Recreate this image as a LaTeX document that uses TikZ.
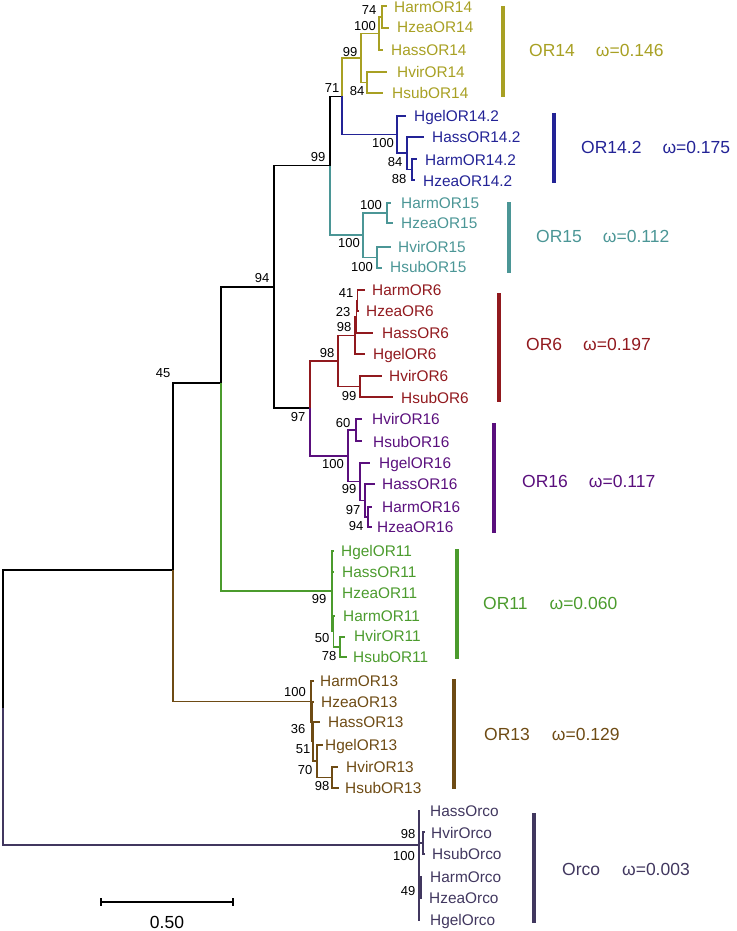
\documentclass[tikz,border=0pt]{standalone}
\usepackage{fontspec}
\setmainfont{Liberation Sans}
\definecolor{orXIV}{RGB}{168,160,35}
\definecolor{orXIVb}{RGB}{35,35,150}
\definecolor{orXV}{RGB}{75,150,150}
\definecolor{orVI}{RGB}{145,25,30}
\definecolor{orXVI}{RGB}{90,15,125}
\definecolor{orXI}{RGB}{75,155,45}
\definecolor{orXIII}{RGB}{110,75,20}
\definecolor{orco}{RGB}{65,55,95}
\begin{document}
\begin{tikzpicture}[x=1pt,y=-1pt,
  br/.style={line width=1.15pt},
  leaf/.style={font=\fontsize{15.4}{18}\selectfont, anchor=base west, inner sep=0pt, yshift=-5.5pt},
  boot/.style={font=\fontsize{13}{15}\selectfont, inner sep=0pt},
  bar/.style={line width=4.5pt},
  clade/.style={font=\fontsize{17.5}{21}\selectfont, anchor=west, inner sep=0pt}]
\useasboundingbox (0,0) rectangle (736,931);
\coordinate (root) at (3,707.5);
\coordinate (nA) at (173,570);
\coordinate (nAtop) at (173,383);
\coordinate (nB) at (221,383);
\coordinate (nC) at (274,287);
\coordinate (nD) at (330,165.5);
\coordinate (nE) at (310,408);
\coordinate (n71) at (342,96.5);
\coordinate (nOrco) at (419,845);
\coordinate (n99a) at (361,58);
\coordinate (n100a) at (379,33.5);
\coordinate (n74) at (382,17);
\coordinate (n84a) at (367,82.5);
\coordinate (tHarm14) at (387,6);
\coordinate (tHzea14) at (389,28);
\coordinate (tHass14) at (383,50);
\coordinate (tHvir14) at (387,72);
\coordinate (tHsub14) at (383,93);
\coordinate (n100b) at (397,134.5);
\coordinate (n84b) at (407,153);
\coordinate (n88) at (412,169.5);
\coordinate (tHgel142) at (406,116);
\coordinate (tHass142) at (424,137);
\coordinate (tHarm142) at (417,159);
\coordinate (tHzea142) at (415,180);
\coordinate (nOR15) at (363,235);
\coordinate (n100c) at (387,213);
\coordinate (n100d) at (377,257.5);
\coordinate (tHarm15) at (391,203);
\coordinate (tHzea15) at (393,223);
\coordinate (tHvir15) at (391,247);
\coordinate (tHsub15) at (382,268);
\coordinate (nOR6) at (338,361);
\coordinate (n98b) at (355,335.5);
\coordinate (n23) at (356.5,317);
\coordinate (n41) at (357.5,300.5);
\coordinate (n99b) at (360,386.5);
\coordinate (tHarm6) at (365,290);
\coordinate (tHzea6) at (359,311);
\coordinate (tHass6) at (373,333);
\coordinate (tHgel6) at (365,354);
\coordinate (tHvir6) at (382,376);
\coordinate (tHsub6) at (393,397);
\coordinate (nOR16) at (348,456);
\coordinate (n60) at (356,430);
\coordinate (n99c) at (360,481.5);
\coordinate (n97c) at (365,500.5);
\coordinate (n94) at (368,517);
\coordinate (tHvir16) at (362,419);
\coordinate (tHsub16) at (362,441);
\coordinate (tHgel16) at (370,463);
\coordinate (tHass16) at (375,484);
\coordinate (tHarm16) at (372,507);
\coordinate (tHzea16) at (372,527);
\coordinate (nOR11) at (332,591);
\coordinate (n50) at (333.5,631.5);
\coordinate (n78) at (340,647);
\coordinate (tHgel11) at (334,551);
\coordinate (tHass11) at (334,572);
\coordinate (tHzea11) at (333,593);
\coordinate (tHarm11) at (335,616);
\coordinate (tHvir11) at (345,637);
\coordinate (tHsub11) at (347,657);
\coordinate (n100e) at (311,701.5);
\coordinate (n36) at (312,722);
\coordinate (n51) at (313,741.5);
\coordinate (n70) at (317,761);
\coordinate (n98e) at (332,777.5);
\coordinate (tHarm13) at (314,681);
\coordinate (tHzea13) at (314,702);
\coordinate (tHass13) at (320,722);
\coordinate (tHgel13) at (323,745);
\coordinate (tHvir13) at (338,767);
\coordinate (tHsub13) at (339,788);
\coordinate (n98f) at (423,843);
\coordinate (n49) at (421,887.5);
\coordinate (tHassO) at (420,811);
\coordinate (tHvirO) at (425,832);
\coordinate (tHsubO) at (425,854);
\coordinate (tHarmO) at (422,877);
\coordinate (tHzeaO) at (422,898);
\coordinate (tHgelO) at (420,920);
\draw[br] (root) |- (nA) (nA) -- (nAtop) -- (nB) (nB) |- (nC) (nC) |- (nD) (nC) |- (nE) (nD) |- (n71);
\draw[br,orco] (root) |- (nOrco);
\draw[br,orXIII] (nA) |- (n100e);
\draw[br,orXI] (nB) |- (nOR11);
\draw[br,orXV] (nD) |- (nOR15);
\draw[br,orXIV] (n71) |- (n99a) (n99a) |- (n100a) (n100a) |- (n74) (n74) |- (tHarm14) (n74) |- (tHzea14)
  (n100a) |- (tHass14) (n99a) |- (n84a) (n84a) |- (tHvir14) (n84a) |- (tHsub14);
\draw[br,orXIVb] (n71) |- (n100b) (n100b) |- (tHgel142) (n100b) |- (n84b) (n84b) |- (tHass142)
  (n84b) |- (n88) (n88) |- (tHarm142) (n88) |- (tHzea142);
\draw[br,orXV] (nOR15) |- (n100c) (n100c) |- (tHarm15) (n100c) |- (tHzea15)
  (nOR15) |- (n100d) (n100d) |- (tHvir15) (n100d) |- (tHsub15);
\draw[br,orVI] (nE) |- (nOR6) (nOR6) |- (n98b) (n98b) |- (n23) (n23) |- (n41) (n41) |- (tHarm6) (n41) |- (tHzea6)
  (n23) |- (tHass6) (n98b) |- (tHgel6) (nOR6) |- (n99b) (n99b) |- (tHvir6) (n99b) |- (tHsub6);
\draw[br,orXVI] (nE) |- (nOR16) (nOR16) |- (n60) (n60) |- (tHvir16) (n60) |- (tHsub16) (nOR16) |- (n99c)
  (n99c) |- (tHgel16) (n99c) |- (n97c) (n97c) |- (tHass16) (n97c) |- (n94) (n94) |- (tHarm16) (n94) |- (tHzea16);
\draw[br,orXI] (nOR11) |- (tHgel11) (nOR11) |- (tHass11) (nOR11) |- (tHzea11) (nOR11) |- (n50)
  (n50) |- (tHarm11) (n50) |- (n78) (n78) |- (tHvir11) (n78) |- (tHsub11);
\draw[br,orXIII] (n100e) |- (tHarm13) (n100e) |- (n36) (n36) |- (tHzea13) (n36) |- (n51) (n51) |- (tHass13)
  (n51) |- (n70) (n70) |- (tHgel13) (n70) |- (n98e) (n98e) |- (tHvir13) (n98e) |- (tHsub13);
\draw[br,orco] (nOrco) |- (tHassO) (nOrco) |- (n98f) (n98f) |- (tHvirO) (n98f) |- (tHsubO)
  (nOrco) |- (n49) (n49) |- (tHarmO) (n49) |- (tHzeaO) (nOrco) |- (tHgelO);
\node[leaf, orXIV] (lHarm14) at (394,7.5) {HarmOR14};
\node[leaf, orXIV] (lHzea14) at (397,27.5) {HzeaOR14};
\node[leaf, orXIV] (lHass14) at (391,50) {HassOR14};
\node[leaf, orXIV] (lHvir14) at (397,72) {HvirOR14};
\node[leaf, orXIV] (lHsub14) at (392,93) {HsubOR14};
\node[leaf, orXIVb] (lHgel142) at (414,116) {HgelOR14.2};
\node[leaf, orXIVb] (lHass142) at (432,137) {HassOR14.2};
\node[leaf, orXIVb] (lHarm142) at (425,160) {HarmOR14.2};
\node[leaf, orXIVb] (lHzea142) at (423,181) {HzeaOR14.2};
\node[leaf, orXV] (lHarm15) at (401,203) {HarmOR15};
\node[leaf, orXV] (lHzea15) at (401,223) {HzeaOR15};
\node[leaf, orXV] (lHvir15) at (398,247) {HvirOR15};
\node[leaf, orXV] (lHsub15) at (390,267) {HsubOR15};
\node[leaf, orVI] (lHarm6) at (372,290) {HarmOR6};
\node[leaf, orVI] (lHzea6) at (366,311) {HzeaOR6};
\node[leaf, orVI] (lHass6) at (382,333) {HassOR6};
\node[leaf, orVI] (lHgel6) at (373,354) {HgelOR6};
\node[leaf, orVI] (lHvir6) at (389,376) {HvirOR6};
\node[leaf, orVI] (lHsub6) at (401,398) {HsubOR6};
\node[leaf, orXVI] (lHvir16) at (372,419) {HvirOR16};
\node[leaf, orXVI] (lHsub16) at (373,442) {HsubOR16};
\node[leaf, orXVI] (lHgel16) at (379,463) {HgelOR16};
\node[leaf, orXVI] (lHass16) at (382,484) {HassOR16};
\node[leaf, orXVI] (lHarm16) at (382,507) {HarmOR16};
\node[leaf, orXVI] (lHzea16) at (377,527) {HzeaOR16};
\node[leaf, orXI] (lHgel11) at (341,551) {HgelOR11};
\node[leaf, orXI] (lHass11) at (342,572) {HassOR11};
\node[leaf, orXI] (lHzea11) at (342,593) {HzeaOR11};
\node[leaf, orXI] (lHarm11) at (343,616) {HarmOR11};
\node[leaf, orXI] (lHvir11) at (354,636) {HvirOR11};
\node[leaf, orXI] (lHsub11) at (353,657) {HsubOR11};
\node[leaf, orXIII] (lHarm13) at (320,681) {HarmOR13};
\node[leaf, orXIII] (lHzea13) at (321,702) {HzeaOR13};
\node[leaf, orXIII] (lHass13) at (328,722) {HassOR13};
\node[leaf, orXIII] (lHgel13) at (325,745) {HgelOR13};
\node[leaf, orXIII] (lHvir13) at (346,767) {HvirOR13};
\node[leaf, orXIII] (lHsub13) at (345,788) {HsubOR13};
\node[leaf, orco] (lHassO) at (430,811) {HassOrco};
\node[leaf, orco] (lHvirO) at (431,833) {HvirOrco};
\node[leaf, orco] (lHsubO) at (432,854) {HsubOrco};
\node[leaf, orco] (lHarmO) at (430,877) {HarmOrco};
\node[leaf, orco] (lHzeaO) at (429,898) {HzeaOrco};
\node[leaf, orco] (lHgelO) at (430,920) {HgelOrco};
\node[boot] (bnB) at (163,373) {45};
\node[boot] (bnC) at (262,278) {94};
\node[boot] (bnD) at (318,157) {99};
\node[boot] (bn71) at (332,88) {71};
\node[boot] (bnE) at (298,417) {97};
\node[boot] (bn74) at (369,10) {74};
\node[boot] (bn100a) at (365,26) {100};
\node[boot] (bn99a) at (350,52) {99};
\node[boot] (bn84a) at (357,91) {84};
\node[boot] (bn100b) at (383,143) {100};
\node[boot] (bn84b) at (395,162) {84};
\node[boot] (bn88) at (399,179) {88};
\node[boot] (bn100c) at (371,205) {100};
\node[boot] (bnOR15) at (349,243) {100};
\node[boot] (bn100d) at (362,267) {100};
\node[boot] (bn41) at (346,293) {41};
\node[boot] (bn23) at (343,312) {23};
\node[boot] (bn98b) at (344,327) {98};
\node[boot] (bnOR6) at (327,353) {98};
\node[boot] (bn99b) at (349,396) {99};
\node[boot] (bn60) at (343,423) {60};
\node[boot] (bnOR16) at (333,464) {100};
\node[boot] (bn99c) at (349,489) {99};
\node[boot] (bn97c) at (353,510) {97};
\node[boot] (bn94) at (356,526) {94};
\node[boot] (bnOR11) at (319,599) {99};
\node[boot] (bn50) at (322,638) {50};
\node[boot] (bn78) at (329,656) {78};
\node[boot] (bn100e) at (295,692) {100};
\node[boot] (bn36) at (298,729) {36};
\node[boot] (bn51) at (303,749) {51};
\node[boot] (bn70) at (305,770) {70};
\node[boot] (bn98e) at (322,786) {98};
\node[boot] (bn98f) at (408,834) {98};
\node[boot] (bnOrco) at (404,856) {100};
\node[boot] (bn49) at (408,891) {49};
\draw[bar, orXIV] (503,6) -- (503,97);
\draw[bar, orXIVb] (554,113) -- (554,183);
\draw[bar, orXV] (509,202) -- (509,273);
\draw[bar, orVI] (499,293) -- (499,402);
\draw[bar, orXVI] (494,423) -- (494,533);
\draw[bar, orXI] (457,549) -- (457,659);
\draw[bar, orXIII] (454,679) -- (454,789);
\draw[bar, orco] (534,813) -- (534,923);
\node[clade, orXIV] (cOR14) at (529,50) {OR14\hspace{21pt}ω=0.146};
\node[clade, orXIVb] (cOR142) at (581,147) {OR14.2\hspace{21pt}ω=0.175};
\node[clade, orXV] (cOR15) at (536,236) {OR15\hspace{21pt}ω=0.112};
\node[clade, orVI] (cOR6) at (526,344) {OR6\hspace{21pt}ω=0.197};
\node[clade, orXVI] (cOR16) at (522,481) {OR16\hspace{21pt}ω=0.117};
\node[clade, orXI] (cOR11) at (483,603) {OR11\hspace{22pt}ω=0.060};
\node[clade, orXIII] (cOR13) at (484,734) {OR13\hspace{22pt}ω=0.129};
\node[clade, orco] (cOrco) at (562,869) {Orco\hspace{22pt}ω=0.003};
\draw[br] (101,902) -- (233,902) (101,898) -- (101,906) (233,898) -- (233,906);
\node[font=\fontsize{17.5}{21}\selectfont, inner sep=0pt] (scale) at (167,922) {0.50};
\end{tikzpicture}
\end{document}
